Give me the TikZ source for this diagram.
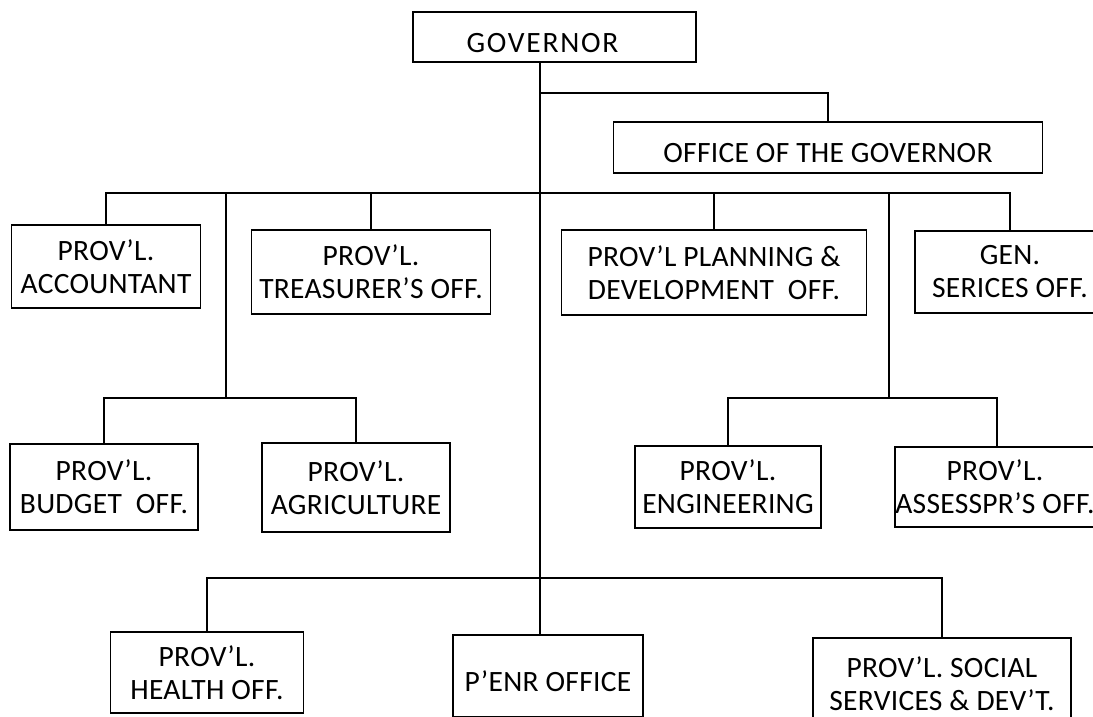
\documentclass[tikz,border=0pt]{standalone}
\usepackage{fontspec}
\setmainfont{Carlito}[LetterSpace=1]
\usepackage{tikz}

\begin{document}
\begin{tikzpicture}[x=1pt, y=-1pt,
  office/.style={draw, line width=1.3pt, align=center, inner sep=0pt,
    font=\fontsize{29.5}{33}\selectfont, execute at begin node={\rule{0pt}{31pt}}},
  link/.style={line width=1.3pt}
]
\useasboundingbox (0,0) rectangle (1093,717);
\node[office, minimum width=283, minimum height=50] (gov) at (554.5,37)
  {\addfontfeature{LetterSpace=6}GOVERNOR\hspace*{24pt}};
\node[office, minimum width=429, minimum height=51] (ofc) at (828,147.5) {OFFICE OF THE GOVERNOR};
\node[office, minimum width=189, minimum height=83] (acct) at (106,266.5) {PROV'L.\\ACCOUNTANT};
\node[office, minimum width=239, minimum height=84] (treas) at (371,272) {PROV'L.\\TREASURER'S OFF.};
\node[office, minimum width=305, minimum height=85] (plan) at (714,272.5) {PROV'L PLANNING \&\\DEVELOPMENT\ \ OFF.};
\node[office, minimum width=190, minimum height=82] (gensvc) at (1010,272) {GEN.\\SERICES OFF.};
\node[office, minimum width=188, minimum height=86] (budget) at (104,487) {PROV'L.\\BUDGET\ \ OFF.};
\node[office, minimum width=188, minimum height=89] (agri) at (356,487.5) {PROV'L.\\AGRICULTURE};
\node[office, minimum width=186, minimum height=82] (engr) at (728,487) {PROV'L.\\ENGINEERING};
\node[office, minimum width=200, minimum height=80] (assess) at (995,487) {PROV'L.\\ASSESSPR'S OFF.};
\node[office, minimum width=193, minimum height=81] (health) at (207,672.5) {PROV'L.\\HEALTH OFF.};
\node[office, minimum width=190, minimum height=82] (penr) at (548,676) {P'ENR OFFICE};
\node[office, minimum width=258, minimum height=92] (social) at (942,684) {PROV'L. SOCIAL\\SERVICES \& DEV'T.};

% bus lines
\coordinate (ofcbus) at (540,93);
\coordinate (topbus) at (540,193);
\coordinate (lsub) at (226,398);
\coordinate (rsub) at (889,398);
\coordinate (spine) at (540,578);

\draw[link] (gov.south -| spine) -- (spine |- penr.north);
\draw[link] (ofcbus) -| (ofc.north);
\draw[link] (acct.north) |- (topbus) -| (gensvc.north);
\foreach \n in {treas,plan}
  \draw[link] (\n.north) -- (\n.north |- topbus);
\draw[link] (lsub |- topbus) -- (lsub);
\draw[link] (budget.north) |- (lsub) -| (agri.north);
\draw[link] (rsub |- topbus) -- (rsub);
\draw[link] ([xshift=2pt]assess.north) |- (rsub) -| (engr.north);
\draw[link] (health.north) |- (spine) -| (social.north);
\end{tikzpicture}
\end{document}
